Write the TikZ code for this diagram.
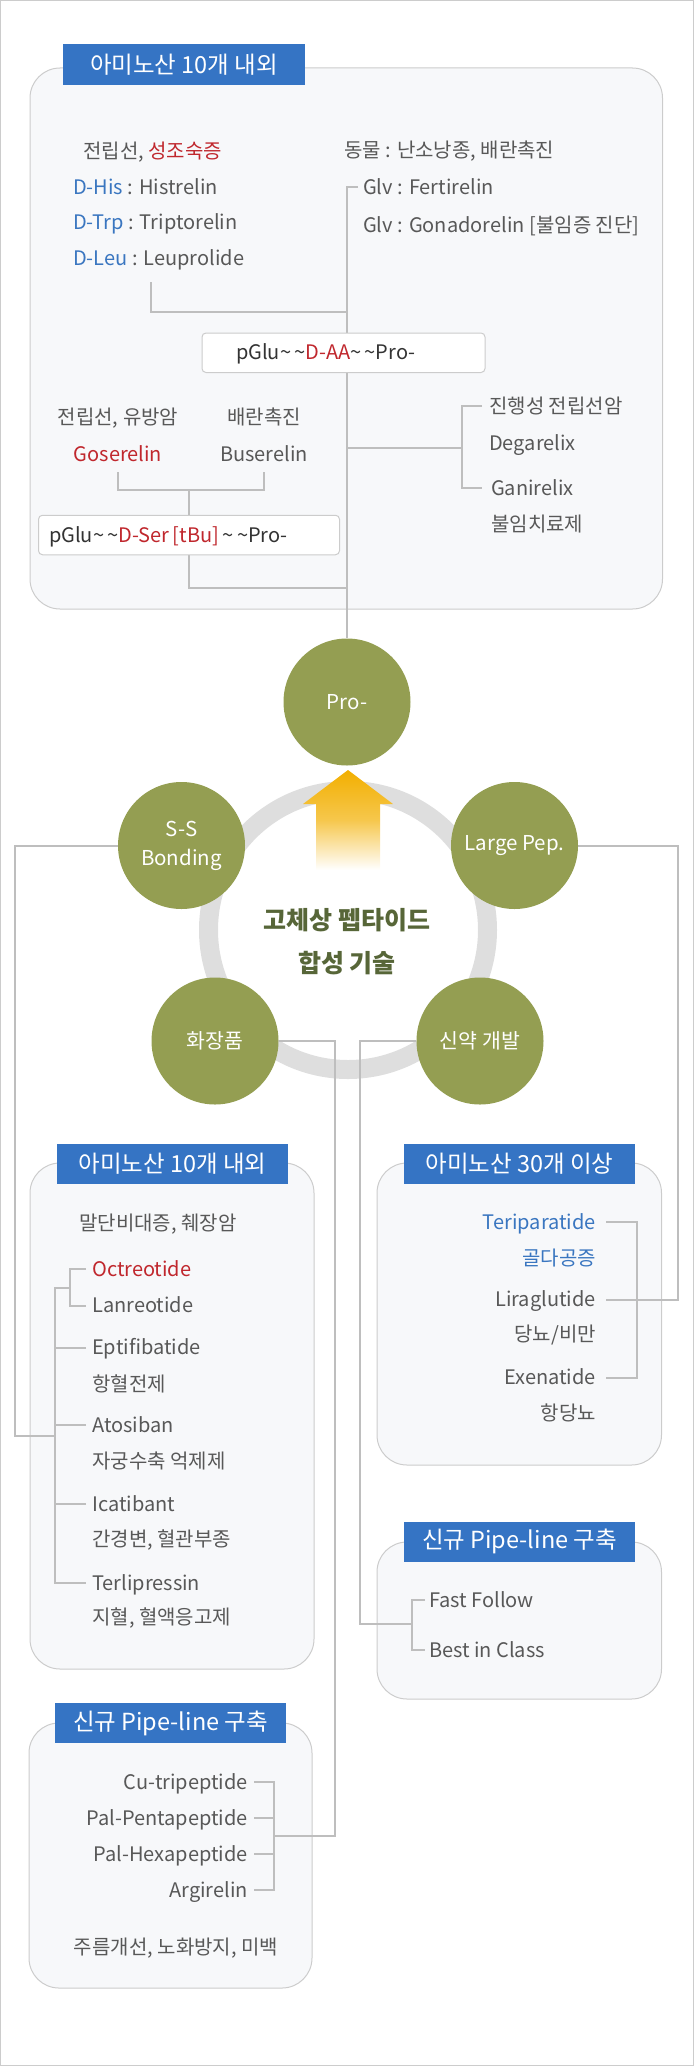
\documentclass[tikz,border=0pt]{standalone}
\usepackage{fontspec}
\setmainfont{Noto Sans CJK KR}

\pgfdeclarelayer{back}
\pgfdeclarelayer{mid}
\pgfsetlayers{back,mid,main}

\definecolor{tabblue}{RGB}{53,116,196}
\definecolor{boxfill}{RGB}{247,248,250}
\definecolor{boxline}{RGB}{204,204,204}
\definecolor{connline}{RGB}{190,190,190}
\definecolor{txtgray}{RGB}{88,88,88}
\definecolor{txtdark}{RGB}{51,51,51}
\definecolor{txtred}{RGB}{192,39,45}
\definecolor{txtblue}{RGB}{58,118,192}
\definecolor{olive}{RGB}{148,158,82}
\definecolor{darkolive}{RGB}{87,102,56}
\definecolor{ringgray}{RGB}{222,222,222}
\definecolor{arrowor}{RGB}{242,175,0}

\newcommand\tld{\textasciitilde}

\begin{document}
\begin{tikzpicture}[x=1pt,y=-1pt,
    txt/.style={inner sep=0pt,text height=14pt,text depth=0pt,text=txtgray,
      font=\fontsize{20}{24}\selectfont},
    tab/.style={fill=tabblue,text=white,inner sep=0pt,minimum height=40,
      font=\fontsize{23.5}{27}\selectfont},
    panel/.style={draw=boxline,fill=boxfill,line width=1pt,rounded corners=30pt},
    pbox/.style={txt,text=txtdark,draw=boxline,fill=white,line width=1pt,
      rounded corners=4pt,minimum height=39.5,align=left},
    bub/.style={circle,fill=olive,text=white,inner sep=0pt,minimum size=127,
      align=center,font=\fontsize{20.5}{29}\selectfont},
    conn/.style={draw=connline,line width=2pt}
  ]

  % Fix the page and draw its thin frame
  \useasboundingbox (0,0) rectangle (694,2066);
  \draw[boxline,line width=1pt] (0.5,0.5) rectangle (693.5,2065.5);

  % Panels and the ring, behind everything
  \begin{pgfonlayer}{back}
    \draw[panel] (30,68) rectangle (662.5,609);
    \draw[panel] (30,1163) rectangle (314,1669);
    \draw[panel] (377,1163) rectangle (661.5,1465);
    \draw[panel] (377,1542) rectangle (661.5,1699);
    \draw[panel] (29,1723) rectangle (312,1988);
    \draw[ringgray,line width=19pt] (348,930) circle (139.5pt);
  \end{pgfonlayer}

  % Panel titles
  \node[tab,minimum width=242] (tabtop) at (184,64.5) {아미노산 10개 내외};
  \node[tab,minimum width=231] (tabten) at (172.5,1163.7) {아미노산 10개 내외};
  \node[tab,minimum width=231] (tabthirty) at (519.5,1163.7) {아미노산 30개 이상};
  \node[tab,minimum width=231] (tabnewr) at (519.5,1541.5) {신규 Pipe-line 구축};
  \node[tab,minimum width=231] (tabnewl) at (170.5,1723) {신규 Pipe-line 구축};

  % Top panel: D-AA group
  \node[txt,anchor=west] (prec) at (83,151) {전립선, {\color{txtred}성조숙증}};
  \node[txt,anchor=west] (his) at (73,187) {{\color{txtblue}D-His} : Histrelin};
  \node[txt,anchor=west] (trp) at (73,222) {{\color{txtblue}D-Trp} : Triptorelin};
  \node[txt,anchor=west] (leu) at (73,258) {{\color{txtblue}D-Leu} : Leuprolide};
  \node[txt,anchor=west] (anim) at (344,150) {동물 : 난소낭종, 배란촉진};
  \node[txt,anchor=west] (fert) at (363,187) {Glv : Fertirelin};
  \node[txt,anchor=west] (gona) at (363,225) {Glv : Gonadorelin [불임증 진단]};
  \node[pbox,text width=215,inner xsep=34] (daa) at (343.5,352.75)
    {pGlu\tld\,\tld{\color{txtred}D-AA}\tld\,\tld Pro-};

  % Top panel: antagonists
  \node[txt,anchor=west] (prog) at (489,406) {진행성 전립선암};
  \node[txt,anchor=west] (dega) at (489,443) {Degarelix};
  \node[txt,anchor=west] (gani) at (491,488) {Ganirelix};
  \node[txt,anchor=west] (infe) at (491,524) {불임치료제};

  % Top panel: D-Ser group
  \node[txt] (brca) at (118,417) {전립선, 유방암};
  \node[txt] (ovul) at (264,417) {배란촉진};
  \node[txt,text=txtred] (gose) at (118,454) {Goserelin};
  \node[txt] (buse) at (264,454) {Buserelin};
  \node[pbox,text width=280,inner xsep=10.5] (dser) at (189,535)
    {pGlu\tld\,\tld{\color{txtred}D-Ser\,[tBu]}\,\tld\,\tld Pro-};

  % Central arrow
  \shade[top color=arrowor,bottom color=white,middle color=arrowor!70!white]
    (348,770) -- (393,804) -- (380,804) -- (380,870) -- (316,870)
    -- (316,804) -- (303,804) -- cycle;

  % Five technology circles
  \node[bub] (pro) at (347,702) {Pro-};
  \node[bub] (ss) at (181.5,845.5) {S-S\\Bonding};
  \node[bub] (lp) at (514.5,845.5) {Large Pep.};
  \node[bub] (hw) at (215,1041) {화장품};
  \node[bub] (sy) at (480,1041) {신약 개발};

  % Centre title
  \node[font=\fontsize{25}{43}\selectfont\bfseries,text=darkolive,align=center]
    (core) at (347,941.5) {고체상 펩타이드\\합성 기술};

  % Left panel
  \node[txt,anchor=west] (acro) at (79,1223) {말단비대증, 췌장암};
  \node[txt,anchor=west,text=txtred] (octr) at (92,1269) {Octreotide};
  \node[txt,anchor=west] (lanr) at (92,1305.5) {Lanreotide};
  \node[txt,anchor=west] (epti) at (92,1347.5) {Eptifibatide};
  \node[txt,anchor=west] (antt) at (92,1384) {항혈전제};
  \node[txt,anchor=west] (atos) at (92,1425) {Atosiban};
  \node[txt,anchor=west] (toco) at (92,1461.5) {자궁수축 억제제};
  \node[txt,anchor=west] (icat) at (92,1504) {Icatibant};
  \node[txt,anchor=west] (cirr) at (92,1539.5) {간경변, 혈관부종};
  \node[txt,anchor=west] (terl) at (92,1583) {Terlipressin};
  \node[txt,anchor=west] (hemo) at (92,1617.5) {지혈, 혈액응고제};

  % Right upper panel
  \node[txt,anchor=east,text=txtblue] (teri) at (596,1222) {Teriparatide};
  \node[txt,anchor=east,text=txtblue] (oste) at (596,1258.5) {골다공증};
  \node[txt,anchor=east] (lira) at (596,1299.5) {Liraglutide};
  \node[txt,anchor=east] (diab) at (596,1334.5) {당뇨/비만};
  \node[txt,anchor=east] (exen) at (596,1377.5) {Exenatide};
  \node[txt,anchor=east] (andi) at (596,1413.5) {항당뇨};

  % Right lower panel
  \node[txt,anchor=west] (fast) at (429,1600) {Fast Follow};
  \node[txt,anchor=west] (best) at (429,1650) {Best in Class};

  % Bottom left panel
  \node[txt,anchor=east] (cutr) at (248,1782) {Cu-tripeptide};
  \node[txt,anchor=east] (pent) at (248,1818) {Pal-Pentapeptide};
  \node[txt,anchor=east] (hexa) at (248,1854) {Pal-Hexapeptide};
  \node[txt,anchor=east] (argi) at (248,1890) {Argirelin};
  \node[txt] (wrin) at (176,1947) {주름개선, 노화방지, 미백};

  % Junction points
  \coordinate (leuend) at (151,282);
  \coordinate (tja) at (347,312);
  \coordinate (tjb) at (347,448);
  \coordinate (tjc) at (347,588);
  \coordinate (ssj) at (55.3,1436);
  \coordinate (octj) at (70,1287.5);
  \coordinate (hwj) at (273.5,1836);
  \coordinate (syj) at (411.6,1624);

  % Connectors, under the nodes
  \begin{pgfonlayer}{mid}
    % top panel tree down to Pro-
    \draw[conn] ([xshift=-5pt]fert.west) -| (pro.north);
    \draw[conn] (leuend) |- (tja);
    \draw[conn] (tjb) -- ++(115,0);
    \draw[conn] ([xshift=-7pt]prog.west) -- ++(-20,0) |- ([xshift=-9pt]gani.west);
    \draw[conn] ([yshift=-11pt]gose.south) -- ++(0,17.5) -| ([yshift=-11pt]buse.south);
    \draw[conn] (dser.north) -- ++(0,-25);
    \draw[conn] (dser.south) |- (tjc);

    % S-S Bonding to the left panel
    \draw[conn] (ss.west) -- ++(-103,0) |- (ssj);
    \draw[conn] ([xshift=-6pt]octr.west) -- ++(-16,0) |- ([xshift=-6pt]lanr.west);
    \draw[conn] (octj) -- ++(-14.7,0) |- ([xshift=-6pt]terl.west);
    \foreach \n in {epti,atos,icat}
      \draw[conn] ([xshift=-6pt]\n.west) -- ++(-30.7,0);

    % Large Pep. to the right upper panel
    \draw[conn] (lp.east) -- ++(100,0) |- ([xshift=10pt]lira.east);
    \draw[conn] ([xshift=10pt]teri.east) -- ++(30.5,0) |- ([xshift=10pt]exen.east);

    % cosmetics to the bottom panel
    \draw[conn] (hw.east) -- ++(56,0) |- (hwj);
    \draw[conn] ([xshift=6pt]cutr.east) -- ++(19.5,0) |- ([xshift=6pt]argi.east);
    \foreach \n in {pent,hexa}
      \draw[conn] ([xshift=6pt]\n.east) -- ++(19.5,0);

    % new drugs to the pipeline panel
    \draw[conn] (sy.west) -- ++(-56.5,0) |- (syj);
    \draw[conn] ([xshift=-4pt]fast.west) -- ++(-13.4,0) |- ([xshift=-4pt]best.west);
  \end{pgfonlayer}

\end{tikzpicture}
\end{document}
